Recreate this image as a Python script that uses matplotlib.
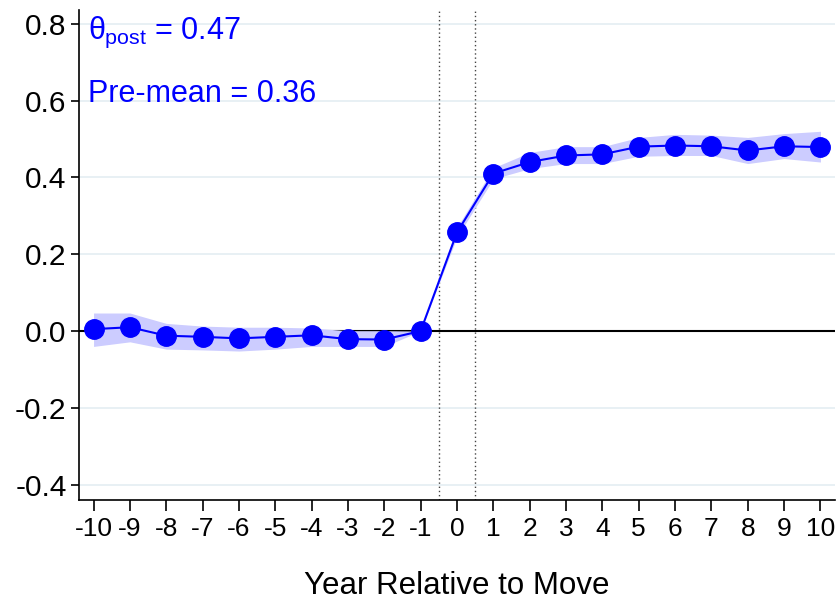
import matplotlib
matplotlib.use("Agg")
import matplotlib.pyplot as plt

plt.rcParams['font.family'] = ['Liberation Sans', 'DejaVu Sans']
plt.rcParams['mathtext.fontset'] = 'custom'
plt.rcParams['mathtext.rm'] = 'Liberation Sans'
plt.rcParams['mathtext.it'] = 'Liberation Sans'

# data
years = list(range(-10, 11))
coef = [0.005, 0.010, -0.012, -0.015, -0.019, -0.015, -0.011, -0.021, -0.022, 0.0,
        0.257, 0.410, 0.440, 0.457, 0.460, 0.480, 0.483, 0.481, 0.470, 0.481, 0.479]
ci_low = [-0.040, -0.028, -0.047, -0.049, -0.052, -0.047, -0.040, -0.040, -0.040, 0.0,
          0.245, 0.396, 0.423, 0.436, 0.436, 0.455, 0.457, 0.457, 0.436, 0.449, 0.440]
ci_high = [0.047, 0.047, 0.020, 0.013, 0.010, 0.010, 0.008, 0.001, 0.001, 0.0,
           0.270, 0.425, 0.465, 0.480, 0.480, 0.504, 0.512, 0.510, 0.504, 0.514, 0.520]
yticks = [-0.4, -0.2, 0.0, 0.2, 0.4, 0.6, 0.8]
theta_post = 0.47
pre_mean = 0.36

fig = plt.figure(figsize=(8.37, 6.04), dpi=100)
ax = fig.add_axes([0.0944, 0.172, 0.9032, 0.811])

for yt in yticks:
    ax.axhline(yt, color='#e4eef2', lw=1.2, zorder=0)
ax.axhline(0, color='black', lw=1.5, zorder=1)
ax.axvline(-0.5, color='#444444', lw=1, ls=(0, (1, 2)), zorder=1)
ax.axvline(0.5, color='#444444', lw=1, ls=(0, (1, 2)), zorder=1)

ax.fill_between(years, ci_low, ci_high, color='#ccccff', lw=0, zorder=2)
ax.plot(years, coef, color='#0000ff', lw=1.5, marker='o', ms=14, zorder=3)

ax.set_xlim(-10.4, 10.4)
ax.set_ylim(-0.44, 0.835)
ax.set_xticks(years)
ax.set_xticklabels([str(y) for y in years], fontsize=19)
ax.set_yticks(yticks)
ax.set_yticklabels(['%.1f' % t for t in yticks], fontsize=21.5)
ax.tick_params(axis='x', length=8, width=1.2, pad=4)
ax.tick_params(axis='y', length=6, width=1.2, pad=3)

for s in ['top', 'right']:
    ax.spines[s].set_visible(False)
for s in ['left', 'bottom']:
    ax.spines[s].set_linewidth(1.2)

ax.set_xlabel('Year Relative to Move', fontsize=22.5, labelpad=22)

ax.text(0.012, 0.99, r'$\theta_{\mathrm{post}}$' + ' = %.2f' % theta_post,
        transform=ax.transAxes, color='#0000ff', fontsize=22, va='top', ha='left')
ax.text(0.012, 0.86, 'Pre-mean = %.2f' % pre_mean,
        transform=ax.transAxes, color='#0000ff', fontsize=22, va='top', ha='left')

fig.savefig('out.png', dpi=100)
